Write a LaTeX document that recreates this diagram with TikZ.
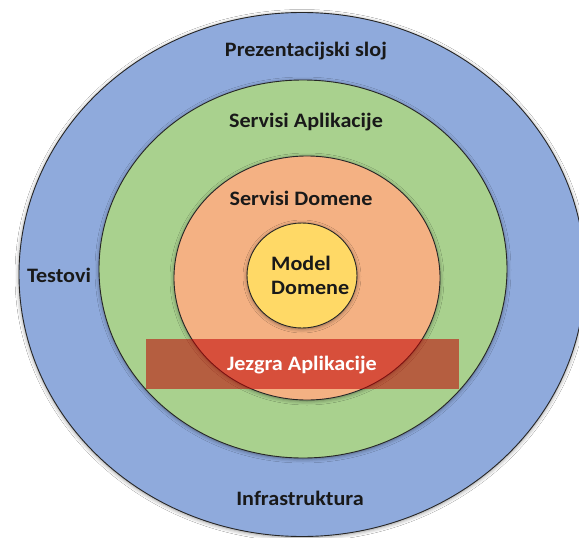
\documentclass[tikz,border=0pt]{standalone}
\usepackage{fontspec}
\setmainfont{Carlito}[FakeStretch=1.08]
\usepackage{tikz}
\usetikzlibrary{shadows.blur}
\definecolor{layerblue}{HTML}{8FAADC}
\definecolor{layergreen}{HTML}{A9D18E}
\definecolor{layerorange}{HTML}{F4B183}
\definecolor{layeryellow}{HTML}{FFD966}
\definecolor{corered}{HTML}{C00000}
\tikzset{
    layer/.style={draw=black!85, line width=0.9pt,
        blur shadow={shadow xshift=0pt, shadow yshift=-1pt,
            shadow blur radius=4pt, shadow opacity=45}},
    layertext/.style={font=\fontsize{20.5}{22}\selectfont\bfseries, text=black!90, inner sep=0pt}}

\begin{document}
\begin{tikzpicture}[x=1pt, y=-1pt]

            \useasboundingbox (0,0) rectangle (579,538);
            \clip (0,0) rectangle (579,538);
            \fill[white] (0,0) rectangle (579,538);

            % layers, outside in
            \path[layer, fill=layerblue] (302,274.5) ellipse [x radius=283pt, y radius=262pt];
            \path[layer, fill=layergreen] (303,269) ellipse [x radius=204pt, y radius=189pt];
            \path[layer, fill=layerorange] (307,278) ellipse [x radius=133pt, y radius=122pt];
            \path[layer, fill=layeryellow] (302,275.5) ellipse [x radius=55pt, y radius=52.5pt];

            % application core band
            \fill[corered, opacity=0.55] (146,339) rectangle (459,389);

            \node[layertext] (pres) at (306,51) {Prezentacijski sloj};
            \node[layertext] (appsrv) at (306,122) {Servisi Aplikacije};
            \node[layertext] (domsrv) at (301,198) {Servisi Domene};
            \node[layertext, align=left, anchor=west] (model) at (271,275) {Model\\[2pt]Domene};
            \node[layertext] (tests) at (59,275) {Testovi};
            \node[layertext, text=white] (core) at (302,365) {Jezgra Aplikacije};
            \node[layertext] (infra) at (300,498) {Infrastruktura};

        \end{tikzpicture}
\end{document}
